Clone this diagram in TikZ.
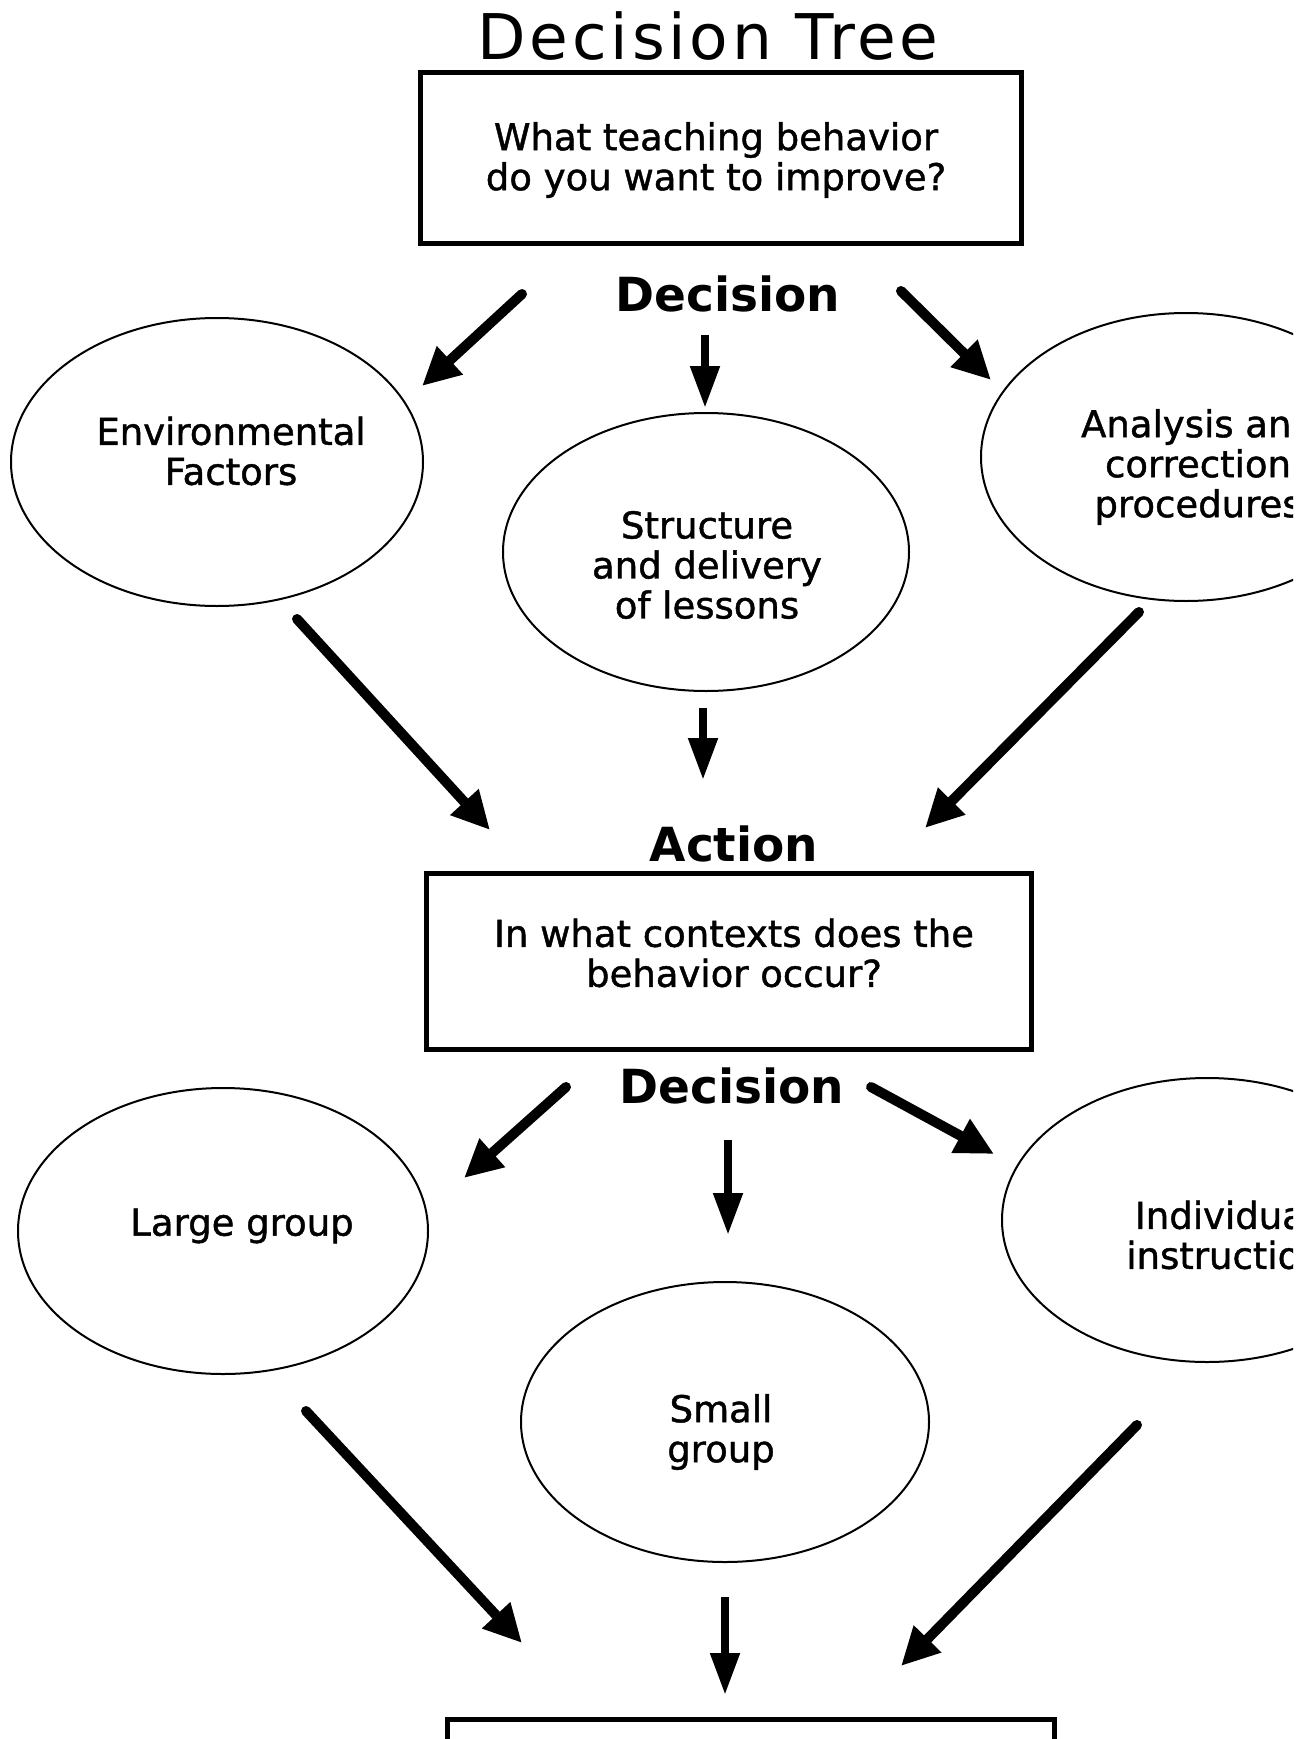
\documentclass[tikz,border=0pt]{standalone}
\usepackage{fontspec}
\setmainfont{DejaVu Sans}
\newfontfamily\titlefont[LetterSpace=6]{DejaVu Sans}
\newfontfamily\bodyfont[FakeBold=1.2]{DejaVu Sans}
\usetikzlibrary{arrows.meta,shapes.geometric}
\tikzset{
  ell/.style={draw, ellipse, line width=2pt, inner sep=0pt},
  qbox/.style={draw, line width=5pt, inner sep=0pt},
  txt/.style={align=center, font=\bodyfont\fontsize{37}{40}\selectfont, inner sep=0pt},
  headword/.style={font=\bfseries\fontsize{47}{50}\selectfont, inner sep=0pt, anchor=base},
  darr/.style={line width=10pt, line cap=round, -{Triangle[length=38pt,width=36pt]}},
  varr/.style={line width=8pt, -{Triangle[length=42pt,width=28pt]}},
}
\begin{document}
\begin{tikzpicture}[x={(1pt,0)}, y={(0,-1pt)}]
\useasboundingbox (0,0) rectangle (1309,1739);
\begin{scope}
\clip (0,0) rectangle (1293,1739);
% title
\node[font=\titlefont\fontsize{63}{70}\selectfont, inner sep=0pt, anchor=base] (title) at (708,60) {Decision Tree};
% box 1
\node[qbox, minimum width=601pt, minimum height=170pt] (box1) at (720.5,158) {};
\node[txt] (q1) at (716,160) {What teaching behavior\\do you want to improve?};
\node[headword] (dec1) at (728,311) {Decision};
% ellipses row 1
\node[ell, minimum width=412pt, minimum height=288pt] (env) at (217,462) {};
\node[txt] (envt) at (231,451) {Environmental\\Factors};
\node[ell, minimum width=406pt, minimum height=278pt] (str) at (706,552) {};
\node[txt] (strt) at (707,565) {Structure\\and delivery\\of lessons};
\node[ell, minimum width=410pt, minimum height=288pt] (ana) at (1186,457) {};
\node[txt] (anat) at (1198,467) {Analysis and\\correction\\procedures};
% action
\node[headword] (act) at (734,861) {Action};
\node[qbox, minimum width=605pt, minimum height=176pt] (box2) at (728.5,961) {};
\node[txt] (q2) at (734,953) {In what contexts does the\\behavior occur?};
\node[headword] (dec2) at (732,1103) {Decision};
% ellipses row 3
\node[ell, minimum width=410pt, minimum height=286pt] (lg) at (223,1231) {};
\node[txt] (lgt) at (242,1226) {Large group};
\node[ell, minimum width=408pt, minimum height=280pt] (sg) at (725,1422) {};
\node[txt] (sgt) at (721,1432) {Small\\group};
\node[ell, minimum width=410pt, minimum height=284pt] (ind) at (1207,1220) {};
\node[txt] (indt) at (1225,1235) {Individual\\instruction};
% bottom box
\node[qbox, minimum width=607pt, minimum height=120pt, anchor=north] (box3) at (750.5,1717) {};
% arrow end points
\coordinate (a1s) at (522,294); \coordinate (a1e) at (422,386);
\coordinate (a2s) at (705,335); \coordinate (a2e) at (705,408);
\coordinate (a3s) at (901,291); \coordinate (a3e) at (991,380);
\coordinate (b1s) at (297,619); \coordinate (b1e) at (490,830);
\coordinate (b2s) at (703,708); \coordinate (b2e) at (703,780);
\coordinate (b3s) at (1139,612); \coordinate (b3e) at (925,828);
\coordinate (c1s) at (566,1087); \coordinate (c1e) at (464,1178);
\coordinate (c2s) at (728,1140); \coordinate (c2e) at (728,1235);
\coordinate (c3s) at (871,1087); \coordinate (c3e) at (994,1154);
\coordinate (d1s) at (306,1411); \coordinate (d1e) at (522,1643);
\coordinate (d2s) at (725,1597); \coordinate (d2e) at (725,1695);
\coordinate (d3s) at (1137,1425); \coordinate (d3e) at (901,1666);
% arrows
\draw[darr] (a1s) -- (a1e);
\draw[varr] (a2s) -- (a2e);
\draw[darr] (a3s) -- (a3e);
\draw[darr] (b1s) -- (b1e);
\draw[varr] (b2s) -- (b2e);
\draw[darr] (b3s) -- (b3e);
\draw[darr] (c1s) -- (c1e);
\draw[varr] (c2s) -- (c2e);
\draw[darr] (c3s) -- (c3e);
\draw[darr] (d1s) -- (d1e);
\draw[varr] (d2s) -- (d2e);
\draw[darr] (d3s) -- (d3e);
\end{scope}
\end{tikzpicture}
\end{document}
